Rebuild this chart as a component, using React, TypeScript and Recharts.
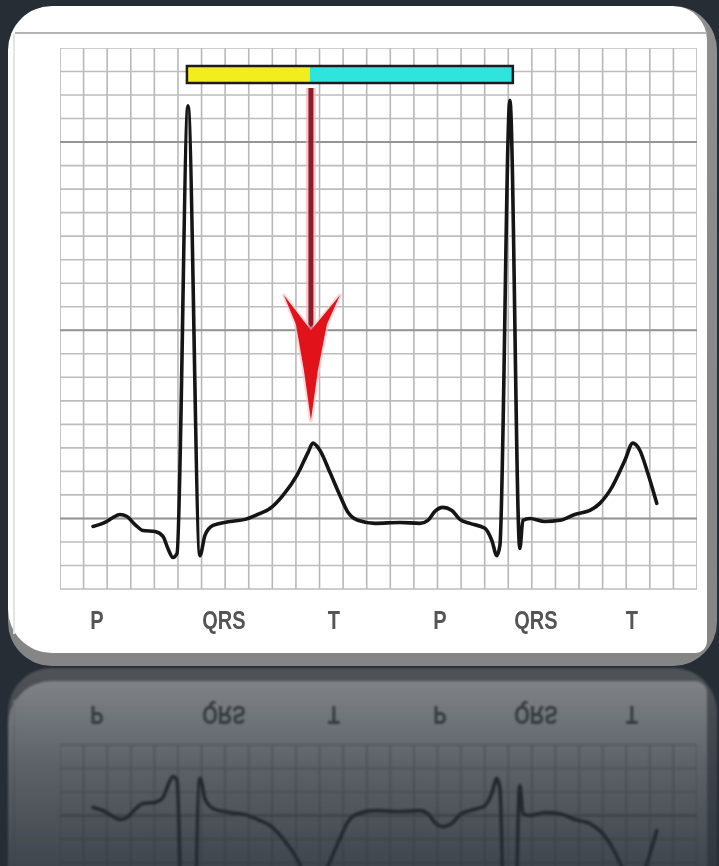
import React from 'react';
import { LineChart, Line, XAxis, YAxis, ReferenceLine, ReferenceArea, ReferenceDot } from 'recharts';

// ECG trace: time (s) and amplitude (mV) read from the strip
const ecgTime = [
  0.28, 0.381, 0.449, 0.508, 0.568, 0.636, 0.703, 0.805, 0.873, 0.915, 0.958, 0.992,
  1.085, 1.186, 1.229, 1.297, 1.441, 1.568, 1.695, 1.78, 1.89, 2.008, 2.102, 2.144,
  2.203, 2.288, 2.373, 2.441, 2.525, 2.669, 2.881, 3.051, 3.119, 3.178, 3.246, 3.322,
  3.39, 3.475, 3.602, 3.661, 3.703, 3.729, 3.814, 3.898, 3.924, 3.983, 4.11, 4.237,
  4.364, 4.492, 4.576, 4.678, 4.788, 4.856, 4.915, 4.983, 5.059,
];
const ecgMillivolts = [
  -0.17, -0.085, 0.02, 0.085, 0.04, -0.13, -0.255, -0.28, -0.38, -0.64, -0.83, -0.745,
  8.77, -0.79, -0.36, -0.15, -0.065, -0.02, 0.105, 0.21, 0.49, 0.915, 1.4, 1.6,
  1.45, 0.98, 0.49, 0.13, -0.04, -0.105, -0.085, -0.105, -0.04, 0.15, 0.235, 0.17,
  -0.02, -0.105, -0.21, -0.47, -0.79, -0.575, 8.89, -0.64, -0.04, 0, -0.065, -0.04,
  0.085, 0.17, 0.32, 0.66, 1.23, 1.6, 1.45, 0.96, 0.32,
];

// wave labels under the strip
const waveLabels = ['P', 'QRS', 'T', 'P', 'QRS', 'T'];
const waveLabelTimes = [0.314, 1.39, 2.322, 3.22, 4.034, 4.847];

// ECG paper grid
const gridTimes = [
  0, 0.2, 0.4, 0.6, 0.8, 1.0, 1.2, 1.4, 1.6, 1.8, 2.0, 2.2, 2.4, 2.6,
  2.8, 3.0, 3.2, 3.4, 3.6, 3.8, 4.0, 4.2, 4.4, 4.6, 4.8, 5.0, 5.2, 5.4,
];
const gridVolts = [
  -1.5, -1, -0.5, 0, 0.5, 1, 1.5, 2, 2.5, 3, 3.5, 4, 4.5, 5, 5.5, 6,
  6.5, 7, 7.5, 8, 8.5, 9, 9.5, 10,
];
const majorGridVolts = [0, 4, 8];

// R-R interval bar (start R, T peak, next R) and its vertical extent
const rrBarTimes = [1.076, 2.119, 3.839];
const rrBarVolts = [9.255, 9.617];

// arrow pointing at the T wave: time, shaft top, shaft bottom, tip
const arrowTime = 2.127;
const arrowVolts = [9.149, 3.894, 2.085];

const LABEL_FONT = "'Liberation Sans', Arial, sans-serif";

const WaveTick = (props: any) => {
  const { x, y, payload, index } = props;
  const i = waveLabelTimes.indexOf(payload?.value);
  const label = waveLabels[i >= 0 ? i : index];
  return (
    <text
      transform={`translate(${x},${y + 39.5}) scale(0.8,1)`}
      x={0}
      y={0}
      textAnchor="middle"
      fill="#555555"
      fontSize={25}
      fontWeight={700}
      fontFamily={LABEL_FONT}
      style={{ filter: 'blur(0.4px)' }}
    >
      {label}
    </text>
  );
};

const ArrowHead = (props: any) => {
  const { cx, cy } = props;
  if (cx == null || cy == null) return null;
  const d = [
    `M ${cx} ${cy}`,
    `L ${cx - 7} ${cy - 50}`,
    `L ${cx - 15} ${cy - 96}`,
    `L ${cx - 27} ${cy - 125}`,
    `L ${cx} ${cy - 90}`,
    `L ${cx + 29} ${cy - 125}`,
    `L ${cx + 16} ${cy - 96}`,
    `L ${cx + 7} ${cy - 50}`,
    'Z',
  ].join(' ');
  return (
    <g>
      <path d={d} fill="#f6c3c6" stroke="#f6c3c6" strokeWidth={4} strokeLinejoin="round" opacity={0.6} />
      <path d={d} fill="#e2121b" />
    </g>
  );
};

function EcgChart() {
  const data = ecgTime.map((t, i) => ({ t, mv: ecgMillivolts[i] }));
  return (
    <LineChart width={637} height={591} data={data} margin={{ top: 0, right: 0, bottom: 0, left: 0 }}>
      <XAxis
        dataKey="t"
        type="number"
        domain={[0, 5.4]}
        ticks={waveLabelTimes}
        interval={0}
        axisLine={false}
        tickLine={false}
        tickSize={0}
        tickMargin={0}
        height={50}
        allowDataOverflow
        tick={(p: any) => <WaveTick {...p} />}
      />
      <YAxis type="number" domain={[-1.5, 10]} hide allowDataOverflow />
      {gridTimes.map((t) => (
        <ReferenceLine key={'gx' + t} x={t} stroke="#b8b8b8" strokeWidth={1.6} zIndex={-100} />
      ))}
      {gridVolts.map((v) => (
        <ReferenceLine key={'gy' + v} y={v} stroke="#bdbdbd" strokeWidth={1.6} zIndex={-100} />
      ))}
      {majorGridVolts.map((v) => (
        <ReferenceLine key={'gm' + v} y={v} stroke="#959595" strokeWidth={2} zIndex={-90} />
      ))}
      <ReferenceArea
        x1={rrBarTimes[0]}
        x2={rrBarTimes[1]}
        y1={rrBarVolts[0]}
        y2={rrBarVolts[1]}
        fill="#f3ed1f"
        fillOpacity={1}
        stroke="none"
      />
      <ReferenceArea
        x1={rrBarTimes[1]}
        x2={rrBarTimes[2]}
        y1={rrBarVolts[0]}
        y2={rrBarVolts[1]}
        fill="#2fe4dc"
        fillOpacity={1}
        stroke="none"
      />
      <ReferenceArea
        x1={rrBarTimes[0]}
        x2={rrBarTimes[2]}
        y1={rrBarVolts[0]}
        y2={rrBarVolts[1]}
        fill="none"
        fillOpacity={0}
        stroke="#1c1c1c"
        strokeWidth={2.5}
      />
      <ReferenceLine
        segment={[
          { x: arrowTime, y: arrowVolts[0] },
          { x: arrowTime, y: arrowVolts[1] },
        ]}
        stroke="#f2b5ba"
        strokeOpacity={0.7}
        strokeWidth={10}
      />
      <ReferenceLine
        segment={[
          { x: arrowTime, y: arrowVolts[0] },
          { x: arrowTime, y: arrowVolts[1] },
        ]}
        stroke="#8b1d2b"
        strokeWidth={5}
      />
      <ReferenceDot x={arrowTime} y={arrowVolts[2]} r={1} shape={(p: any) => <ArrowHead {...p} />} />
      <Line
        dataKey="mv"
        type="monotone"
        stroke="#151515"
        strokeWidth={3.6}
        strokeLinejoin="round"
        strokeLinecap="round"
        dot={false}
        activeDot={false}
        isAnimationActive={false}
      />
    </LineChart>
  );
}

function Card() {
  return (
    <div
      style={{
        position: 'absolute',
        left: 8,
        top: 6,
        width: 709,
        height: 660,
        borderRadius: 44,
        background: 'linear-gradient(to bottom, #8e8e8e, #858585)',
        overflow: 'hidden',
      }}
    >
      <div
        style={{
          position: 'absolute',
          left: 0,
          top: 0,
          width: 699,
          height: 647,
          background: '#ffffff',
          borderRadius: '44px 34px 12px 44px',
        }}
      />
      <div
        style={{
          position: 'absolute',
          left: 7,
          top: 26,
          width: 692,
          height: 2,
          background: '#b4b4b4',
        }}
      />
      <div
        style={{
          position: 'absolute',
          left: 5,
          top: 28,
          width: 2,
          height: 600,
          background: '#e4e4e4',
        }}
      />
      <div style={{ position: 'absolute', left: 52, top: 42 }}>
        <EcgChart />
      </div>
    </div>
  );
}

export default function App() {
  const mask = 'linear-gradient(to bottom, rgba(0,0,0,0.44), rgba(0,0,0,0.25) 50%, rgba(0,0,0,0.12))';
  return (
    <div
      style={{
        position: 'fixed',
        left: 0,
        top: 0,
        width: 719,
        height: 866,
        background: '#262d35',
        overflow: 'hidden',
      }}
    >
      <div
        style={{
          position: 'absolute',
          left: 0,
          top: 667,
          width: 719,
          height: 199,
          overflow: 'hidden',
          WebkitMaskImage: mask,
          maskImage: mask,
        }}
      >
        <div
          style={{
            position: 'absolute',
            left: 0,
            top: -667,
            width: 719,
            height: 866,
            transform: 'scaleY(-1)',
            transformOrigin: '0 667px',
            filter: 'blur(0.8px)',
          }}
        >
          <Card />
        </div>
      </div>
      <Card />
    </div>
  );
}
